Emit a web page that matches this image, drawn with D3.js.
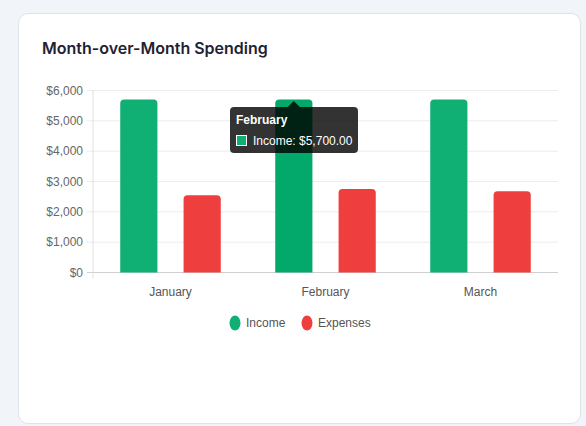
<!DOCTYPE html>
<html><head><meta charset="utf-8">
<script src="https://cdn.jsdelivr.net/npm/d3@7"></script>
<style>
body{margin:0;background:#f1f4f8;font-family:"Liberation Sans",Arial,sans-serif;}
#card{position:absolute;left:18px;top:13px;width:563px;height:411px;background:#fff;border:1px solid #dfe3e8;border-radius:10px;box-sizing:border-box;}
</style></head><body>
<div id="card"></div>
<svg id="c" width="586" height="426" style="position:absolute;left:0;top:0"></svg>
<script>
const categories=["January","February","March"];
const income=[5700,5700,5700];
const expenses=[2550,2750,2680];
const yTicks=[0,1000,2000,3000,4000,5000,6000];
const seriesNames=["Income","Expenses"];
const colors=["#10b075","#ef3e3e"];

const svg=d3.select("#c");
svg.append("text").attr("x",42).attr("y",54).text("Month-over-Month Spending")
 .attr("font-family","Inter,sans-serif").attr("font-size",16).attr("font-weight",600).attr("fill","#1f2230");
const x=d3.scaleBand().domain(categories).range([93,558]);
const y=d3.scaleLinear().domain([0,6000]).range([272.5,90.5]);
const g=svg.append("g");
yTicks.forEach(t=>{
 g.append("line").attr("x1",87).attr("x2",558).attr("y1",y(t)).attr("y2",y(t))
  .attr("stroke",t===0?"#d0d0d0":"#ececec");
 g.append("text").attr("x",83).attr("y",y(t)+4).attr("text-anchor","end")
  .attr("font-size",12).attr("fill","#666").text("$"+d3.format(",")(t));
});
g.append("line").attr("x1",93).attr("x2",93).attr("y1",90).attr("y2",278).attr("stroke","#e0e0e0");
categories.forEach(c=>g.append("text").attr("x",x(c)+x.bandwidth()/2).attr("y",296)
 .attr("text-anchor","middle").attr("font-size",12).attr("fill","#555").text(c));
const sub=d3.scaleBand().domain(seriesNames).range([0,x.bandwidth()]).paddingInner(0.413).paddingOuter(0.43);
function bar(xp,w,yt,yb,r){return `M${xp},${yb}V${yt+r}Q${xp},${yt} ${xp+r},${yt}H${xp+w-r}Q${xp+w},${yt} ${xp+w},${yt+r}V${yb}Z`;}
[income,expenses].forEach((vals,si)=>{
 vals.forEach((v,i)=>{
  const xp=x(categories[i])+sub(seriesNames[si]);
  svg.append("path").attr("d",bar(xp,sub.bandwidth(),y(v),y(0),4))
   .attr("fill",(si===0&&i===1)?"#03a86b":colors[si]);
 });
});
const lg=[[235,"Income"],[307,"Expenses"]];
lg.forEach((l,i)=>{
 svg.append("ellipse").attr("cx",l[0]).attr("cy",323).attr("rx",5.5).attr("ry",7.5).attr("fill",colors[i]);
 svg.append("text").attr("x",l[0]+11).attr("y",327).attr("font-size",12).attr("fill","#555").text(l[1]);
});
const cx=x("February")+sub("Income")+sub.bandwidth()/2;
const tt=svg.append("g");
tt.append("path").attr("d",`M${cx-6},107L${cx},101L${cx+6},107Z`).attr("fill","rgba(0,0,0,0.8)");
tt.append("rect").attr("x",230).attr("y",107).attr("width",128).attr("height",46).attr("rx",4).attr("fill","rgba(0,0,0,0.8)");
tt.append("text").attr("x",236).attr("y",124).attr("font-size",12).attr("font-weight",700).attr("fill","#fff").text("February");
tt.append("rect").attr("x",236.5).attr("y",135.5).attr("width",10).attr("height",10).attr("fill",colors[0]).attr("stroke","#fff");
tt.append("text").attr("x",253).attr("y",145).attr("font-size",12).attr("fill","#fff").text("Income: $"+d3.format(",.2f")(income[1]));
</script></body></html>
